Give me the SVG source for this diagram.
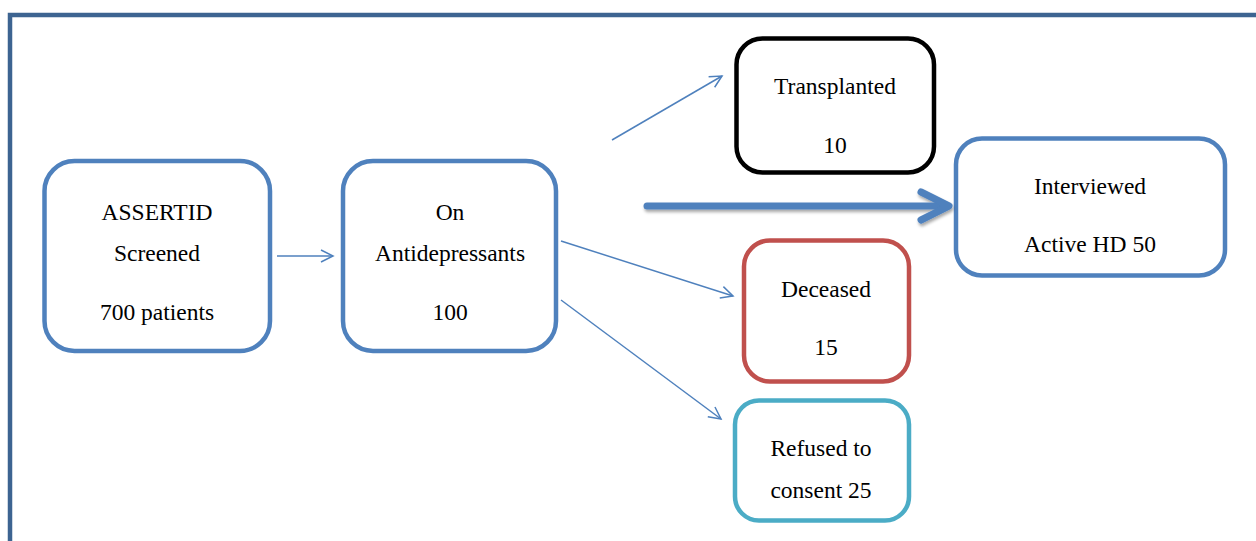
<svg xmlns="http://www.w3.org/2000/svg" width="1256" height="541" viewBox="0 0 1256 541">
<style>
.box{fill:#fff;stroke-width:4.5}
.blue{stroke:#4f81bd}
.black{stroke:#000}
.red{stroke:#c0504d}
.teal{stroke:#4bacc6}
text{font-family:"Liberation Serif","Times New Roman",serif;font-size:23.5px;fill:#000;text-anchor:middle}
.thin{stroke:#4f81bd;stroke-width:1.5;fill:none}
</style>
<defs>
<marker id="oa" markerUnits="userSpaceOnUse" markerWidth="16" markerHeight="16" refX="14" refY="8" orient="auto">
<path d="M2,2 L14,8 L2,14" fill="none" stroke="#4f81bd" stroke-width="1.5"/>
</marker>
<filter id="sh" x="-10%" y="-50%" width="120%" height="200%">
<feDropShadow dx="1" dy="2.5" stdDeviation="1.5" flood-color="#000" flood-opacity="0.35"/>
</filter>
</defs>
<path d="M10,541 L10,15 L1256,15" fill="none" stroke="#3d6491" stroke-width="4.5"/>
<g id="n1"><rect class="box blue" x="44.5" y="161" width="225.5" height="190" rx="30"/>
<text x="157" y="220">ASSERTID</text><text x="157" y="261">Screened</text><text x="157" y="320">700 patients</text></g>
<g id="n2"><rect class="box blue" x="343" y="161" width="213" height="190" rx="30"/>
<text x="450" y="220">On</text><text x="450" y="261">Antidepressants</text><text x="450" y="320">100</text></g>
<g id="n3"><rect class="box black" x="736.5" y="38.5" width="197.5" height="134" rx="26"/>
<text x="835" y="94">Transplanted</text><text x="835" y="153">10</text></g>
<g id="n4"><rect class="box blue" x="956" y="138.5" width="269" height="137" rx="26"/>
<text x="1090" y="194">Interviewed</text><text x="1090" y="252">Active HD 50</text></g>
<g id="n5"><rect class="box red" x="744" y="240.5" width="165" height="141" rx="26"/>
<text x="826" y="297">Deceased</text><text x="826" y="355">15</text></g>
<g id="n6"><rect class="box teal" x="735" y="400.5" width="174" height="120" rx="24"/>
<text x="821" y="456">Refused to</text><text x="821" y="498">consent 25</text></g>
<g id="connectors">
<line class="thin" x1="277" y1="256" x2="333" y2="256" marker-end="url(#oa)"/>
<line class="thin" x1="612" y1="140" x2="722" y2="76" marker-end="url(#oa)"/>
<line class="thin" x1="561" y1="241" x2="733" y2="296" marker-end="url(#oa)"/>
<line class="thin" x1="561" y1="300" x2="721" y2="419" marker-end="url(#oa)"/>
<g filter="url(#sh)" stroke="#4f81bd" stroke-width="7" fill="none" stroke-linecap="round" stroke-linejoin="round">
<line x1="647" y1="206" x2="946" y2="206"/>
<path d="M921,192 L949,206 L921,220"/>
</g>
</g>
</svg>
